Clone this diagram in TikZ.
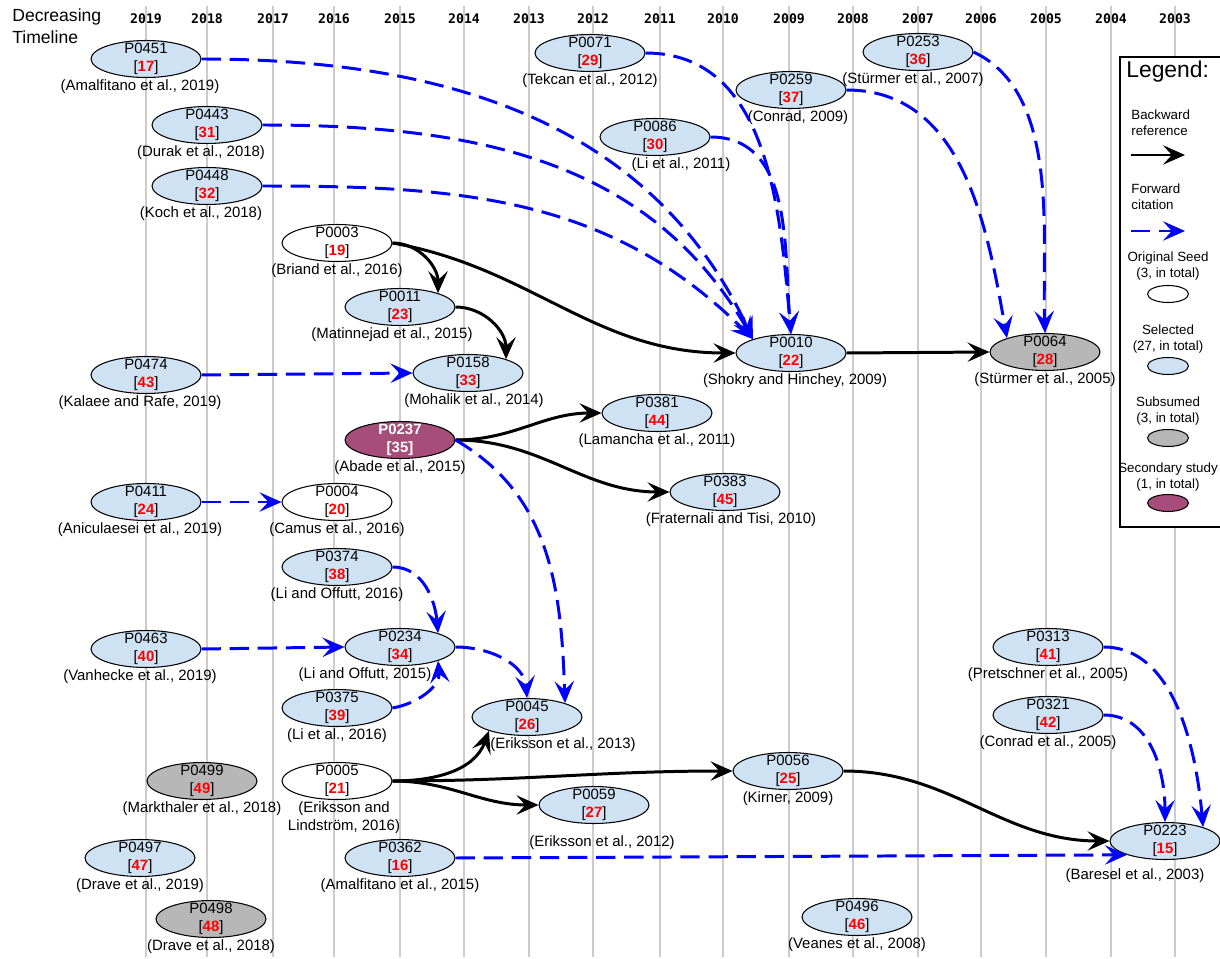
\documentclass[tikz,border=0pt]{standalone}
\usepackage{fontspec}
\setmainfont{Liberation Sans}
\newfontfamily\yearfont{DejaVu Sans Mono}
\usetikzlibrary{arrows.meta,shapes.geometric,positioning}

\definecolor{selblue}{HTML}{CFE2F3}
\definecolor{subgrey}{HTML}{B7B7B7}
\definecolor{secpurple}{HTML}{A64D79}
\definecolor{gridgrey}{HTML}{CCCCCC}
\definecolor{fwdblue}{HTML}{0000FF}
\definecolor{refred}{HTML}{FF0000}

\newcommand{\refnum}[1]{{\color{refred}\bfseries #1}}

\tikzstyle{paper} = [draw, ellipse, line width=0.6pt, minimum width=2.2cm,
minimum height=0.74cm, inner xsep=0pt, inner ysep=-2pt, align=center,
font=\fontsize{8.5}{10.2}\selectfont]
\tikzstyle{seed} = [paper, fill=white]
\tikzstyle{selected} = [paper, fill=selblue]
\tikzstyle{subsumed} = [paper, fill=subgrey]
\tikzstyle{secondary} = [paper, fill=secpurple, text=white,
font=\fontsize{8.5}{10.2}\selectfont\bfseries]
\tikzstyle{backref} = [draw, line width=1.7pt,
-{Stealth[length=12.5pt,width=11pt,inset=5pt]}]
\tikzstyle{fwdcite} = [draw=fwdblue, line width=1.7pt, dash pattern=on 11pt off 5pt,
-{Stealth[length=12.5pt,width=11pt,inset=5pt]}]
\tikzstyle{yearline} = [draw=gridgrey, line width=0.8pt]
\tikzstyle{year} = [font=\yearfont\bfseries\fontsize{7.5}{9}\selectfont, inner sep=0pt]
\tikzstyle{legtext} = [font=\fontsize{7.6}{9}\selectfont, inner sep=0pt]
\tikzstyle{legmark} = [minimum width=0.82cm, minimum height=0.34cm]
\tikzset{every label/.style={inner sep=1pt, text=black, font=\fontsize{8.5}{10}\selectfont}}

\begin{document}
\begin{tikzpicture}[x=0.02cm, y=-0.02cm]
	\fill [white] (0,0) rectangle (1220,959);
	\useasboundingbox (0,0) rectangle (1220,959);
	
	\foreach \x/\yr in {146/2019,207/2018,273/2017,334/2016,400/2015,464/2014,
		529/2013,593/2012,660/2011,723/2010,789/2009,853/2008,918/2007,981/2006,
		1046/2005,1111/2004,1175/2003}
	{
		\draw [yearline] (\x,6) -- (\x,957);
		\node [year] (y\yr) at (\x,19) {\yr};
	}
	\node [anchor=west, align=left, inner sep=0pt, font=\fontsize{10}{12.5}\selectfont] (Title) at (12,26) {Decreasing\\Timeline};
	
	\node [selected, label={[xshift=-0.12cm]below:(Amalfitano et al., 2019)}] (P0451) at (146,59) {P0451\\{}[\refnum{17}]};
	\node [selected, label={[xshift=-0.12cm]below:(Durak et al., 2018)}] (P0443) at (207,125) {P0443\\{}[\refnum{31}]};
	\node [selected, label={[xshift=-0.12cm]below:(Koch et al., 2018)}] (P0448) at (207,186) {P0448\\{}[\refnum{32}]};
	\node [selected, label={below:(Tekcan et al., 2012)}] (P0071) at (590,53) {P0071\\{}[\refnum{29}]};
	\node [selected, label={[xshift=0.52cm]below:(Li et al., 2011)}] (P0086) at (655,137) {P0086\\{}[\refnum{30}]};
	\node [selected, label={[xshift=0.14cm]below:(Conrad, 2009)}] (P0259) at (791,90) {P0259\\{}[\refnum{37}]};
	\node [selected, label={[xshift=-0.1cm]below:(Stürmer et al., 2007)}] (P0253) at (918,52) {P0253\\{}[\refnum{36}]};
	\node [seed, label={below:(Briand et al., 2016)}] (P0003) at (337,243) {P0003\\{}[\refnum{19}]};
	\node [selected, label={[xshift=-0.16cm]below:(Matinnejad et al., 2015)}] (P0011) at (400,307) {P0011\\{}[\refnum{23}]};
	\node [selected, label={[xshift=-0.12cm]below:(Kalaee and Rafe, 2019)}] (P0474) at (146,375) {P0474\\{}[\refnum{43}]};
	\node [selected, label={[xshift=0.12cm]below:(Mohalik et al., 2014)}] (P0158) at (468,373) {P0158\\{}[\refnum{33}]};
	\node [selected, label={[xshift=0.08cm]below:(Shokry and Hinchey, 2009)}] (P0010) at (791,353) {P0010\\{}[\refnum{22}]};
	\node [subsumed, label={below:(Stürmer et al., 2005)}] (P0064) at (1045,352) {P0064\\{}[\refnum{28}]};
	\node [secondary, label={below:(Abade et al., 2015)}] (P0237) at (400,440) {P0237\\{}[35]};
	\node [selected, label={below:(Lamancha et al., 2011)}] (P0381) at (657,413) {P0381\\{}[\refnum{44}]};
	\node [selected, label={[xshift=0.12cm]below:(Fraternali and Tisi, 2010)}] (P0383) at (725,492) {P0383\\{}[\refnum{45}]};
	\node [selected, label={[xshift=-0.12cm]below:(Aniculaesei et al., 2019)}] (P0411) at (146,502) {P0411\\{}[\refnum{24}]};
	\node [seed, label={below:(Camus et al., 2016)}] (P0004) at (337,502) {P0004\\{}[\refnum{20}]};
	\node [selected, label={below:(Li and Offutt, 2016)}] (P0374) at (337,567) {P0374\\{}[\refnum{38}]};
	\node [selected, label={[xshift=-0.12cm]below:(Vanhecke et al., 2019)}] (P0463) at (146,649) {P0463\\{}[\refnum{40}]};
	\node [selected, label={[xshift=-0.7cm]below:(Li and Offutt, 2015)}] (P0234) at (400,647) {P0234\\{}[\refnum{34}]};
	\node [selected, label={below:(Pretschner et al., 2005)}] (P0313) at (1048,647) {P0313\\{}[\refnum{41}]};
	\node [selected, label={below:(Li et al., 2016)}] (P0375) at (337,708) {P0375\\{}[\refnum{39}]};
	\node [selected, label={[xshift=0.72cm]below:(Eriksson et al., 2013)}] (P0045) at (527,717) {P0045\\{}[\refnum{26}]};
	\node [selected, label={below:(Conrad et al., 2005)}] (P0321) at (1048,715) {P0321\\{}[\refnum{42}]};
	\node [selected, label={below:(Kirner, 2009)}] (P0056) at (788,771) {P0056\\{}[\refnum{25}]};
	\node [subsumed, label={below:(Markthaler et al., 2018)}] (P0499) at (202,781) {P0499\\{}[\refnum{49}]};
	\node [seed, label={[align=center, xshift=0.14cm]below:(Eriksson and\\Lindström, 2016)}] (P0005) at (337,781) {P0005\\{}[\refnum{21}]};
	\node [selected, label={[xshift=0.16cm, yshift=-0.2cm]below:(Eriksson et al., 2012)}] (P0059) at (594,805) {P0059\\{}[\refnum{27}]};
	\node [selected, label={[xshift=-0.6cm, yshift=-0.14cm]below:(Baresel et al., 2003)}] (P0223) at (1165,841) {P0223\\{}[\refnum{15}]};
	\node [selected, label={below:(Drave et al., 2019)}] (P0497) at (140,858) {P0497\\{}[\refnum{47}]};
	\node [selected, label={below:(Amalfitano et al., 2015)}] (P0362) at (400,858) {P0362\\{}[\refnum{16}]};
	\node [subsumed, label={below:(Drave et al., 2018)}] (P0498) at (211,919) {P0498\\{}[\refnum{48}]};
	\node [selected, label={below:(Veanes et al., 2008)}] (P0496) at (857,917) {P0496\\{}[\refnum{46}]};
	
	\draw [backref] (P0003.east) to[out=0,in=90] (P0011.20);
	\draw [backref] (P0003.east) to[out=-10,in=180] (P0010.west);
	\draw [backref] (P0011.east) to[out=0,in=90] (P0158.20);
	\draw [backref] (P0010.east) -- (P0064.west);
	\draw [backref] (P0237.east) to[out=0,in=180] (P0381.west);
	\draw [backref] (P0237.east) to[out=0,in=180] (P0383.west);
	\draw [backref] (P0005.east) to[out=0,in=250] (P0045.200);
	\draw [backref] (P0005.east) to[out=0,in=180] (P0056.west);
	\draw [backref] (P0005.east) to[out=0,in=180] (P0059.west);
	\draw [backref] (P0056.east) to[out=0,in=180] (P0223.west);
	
	\draw [fwdcite] (P0451.east) to[out=0,in=115] (P0010.160);
	\draw [fwdcite] (P0443.east) to[out=0,in=120] (P0010.160);
	\draw [fwdcite] (P0448.east) to[out=0,in=135] (P0010.160);
	\draw [fwdcite] (P0086.east) to[out=0,in=95] (P0010.north);
	\draw [fwdcite] (P0071.east) to[out=0,in=95] (P0010.north);
	\draw [fwdcite] (P0259.east) to[out=0,in=100] (P0064.160);
	\draw [fwdcite] (P0253.east) to[out=-25,in=92,looseness=0.85] (P0064.north);
	\draw [fwdcite] (P0474.east) -- (P0158.west);
	\draw [fwdcite] (P0411.east) -- (P0004.west);
	\draw [fwdcite] (P0237.east) to[out=-30,in=92] (P0045.20);
	\draw [fwdcite] (P0374.east) to[out=0,in=95] (P0234.20);
	\draw [fwdcite] (P0463.east) -- (P0234.west);
	\draw [fwdcite] (P0375.east) to[out=10,in=-85] (P0234.-20);
	\draw [fwdcite] (P0234.east) to[out=0,in=95] (P0045.north);
	\draw [fwdcite] (P0362.east) -- (P0223.200);
	\draw [fwdcite] (P0313.east) to[out=0,in=95,looseness=0.9] (P0223.20);
	\draw [fwdcite] (P0321.east) to[out=0,in=90] (P0223.north);
	
	% legend
	\draw [fill=white, line width=0.6pt] (1120,57) rectangle (1228,527);
	\node [anchor=west, inner sep=0pt, font=\fontsize{13}{15}\selectfont] (lgTitle) at (1126,72) {Legend:};
	\node [legtext, anchor=west, align=left] (lgBack) at (1131,122.5) {Backward\\reference};
	\coordinate (lgB1) at (1131,155);
	\coordinate (lgB2) at (1185,155);
	\draw [backref] (lgB1) -- (lgB2);
	\node [legtext, anchor=west, align=left] (lgFwd) at (1131,197) {Forward\\citation};
	\coordinate (lgF1) at (1131,231);
	\coordinate (lgF2) at (1185,231);
	\draw [fwdcite] (lgF1) -- (lgF2);
	\node [legtext, align=center] (lgSeedTxt) at (1168,266) {Original Seed\\(3, in total)};
	\node [seed, legmark] (lgSeed) at (1168,294) {};
	\node [legtext, align=center] (lgSelTxt) at (1168,339) {Selected\\(27, in total)};
	\node [selected, legmark] (lgSel) at (1168,366) {};
	\node [legtext, align=center] (lgSubTxt) at (1168,411) {Subsumed\\(3, in total)};
	\node [subsumed, legmark] (lgSub) at (1168,438) {};
	\node [legtext, align=center] (lgSecTxt) at (1168,477) {Secondary study\\(1, in total)};
	\node [secondary, legmark] (lgSec) at (1168,503) {};
	
\end{tikzpicture}
\end{document}
